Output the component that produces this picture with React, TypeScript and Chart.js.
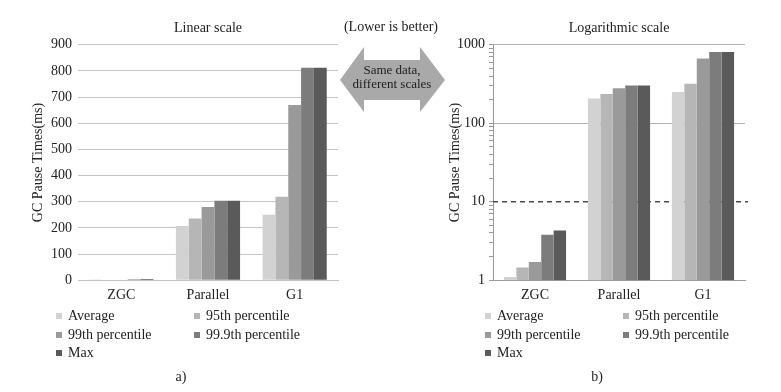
import React, { useEffect, useRef } from 'react';
import { Chart, registerables } from 'chart.js';

Chart.register(...registerables);

// ---------- data ----------
const categories = ['ZGC', 'Parallel', 'G1'];
const seriesLabels = ['Average', '95th percentile', '99th percentile', '99.9th percentile', 'Max'];
const averageMs = [1.1, 207, 250];
const p95Ms = [1.45, 236, 319];
const p99Ms = [1.7, 280, 670];
const p999Ms = [3.8, 304, 812];
const maxMs = [4.3, 304, 812];
const seriesValues = [averageMs, p95Ms, p99Ms, p999Ms, maxMs];
const linearMax = 900;
const linearStep = 100;
const logTickLabels = [1, 10, 100, 1000];
const referenceValue = 10;

// ---------- styles ----------
const seriesColors = ['#d2d2d2', '#b6b6b6', '#9a9a9a', '#7c7c7c', '#5a5a5a'];
const FONT = '"Liberation Serif", "Times New Roman", serif';
const TXT = '#222';

function makeDatasets() {
  return seriesValues.map((data, i) => ({
    label: seriesLabels[i],
    data,
    backgroundColor: seriesColors[i],
    borderWidth: 0,
    barPercentage: 1,
    categoryPercentage: 0.74,
  }));
}

const refLinePlugin = {
  id: 'refLine',
  beforeDatasetsDraw(chart: any) {
    const y = chart.scales.y.getPixelForValue(referenceValue);
    const { left, right } = chart.chartArea;
    const ctx = chart.ctx;
    ctx.save();
    ctx.strokeStyle = '#4a4a4a';
    ctx.lineWidth = 1.3;
    ctx.setLineDash([5, 4]);
    ctx.beginPath();
    ctx.moveTo(left, y);
    ctx.lineTo(right + 3, y);
    ctx.stroke();
    ctx.restore();
  },
};

function Legend({ left, colGap }: { left: number; colGap: number }) {
  const rows = [316, 334.5, 353];
  return (
    <>
      {seriesLabels.map((lab, i) => {
        const col = i % 2;
        const row = Math.floor(i / 2);
        return (
          <div
            key={lab}
            style={{
              position: 'absolute',
              left: left + col * colGap,
              top: rows[row] - 9,
              height: 18,
              display: 'flex',
              alignItems: 'center',
              fontFamily: FONT,
              fontSize: 14,
              color: TXT,
              whiteSpace: 'nowrap',
            }}
          >
            <span style={{ width: 6, height: 6, background: seriesColors[i], marginRight: 6, display: 'inline-block' }} />
            <span>{lab}</span>
          </div>
        );
      })}
    </>
  );
}

export default function App() {
  const leftRef = useRef<HTMLCanvasElement>(null);
  const rightRef = useRef<HTMLCanvasElement>(null);

  useEffect(() => {
    const common = {
      responsive: false,
      animation: false as const,
      layout: { padding: { left: 0, right: 7, top: 0, bottom: 0 } },
      plugins: {
        legend: { display: false },
        tooltip: { enabled: false },
      },
    };

    const titleOpts = (text: string) => ({
      display: true,
      text,
      fullSize: false,
      font: { family: FONT, size: 14, weight: 'normal' },
      color: TXT,
      padding: { top: 20, bottom: 8 },
    });

    const left = new Chart(leftRef.current!, {
      type: 'bar',
      data: { labels: categories, datasets: makeDatasets() as any },
      options: {
        ...common,
        plugins: {
          ...common.plugins,
          title: titleOpts('Linear scale'),
        },
        scales: {
          x: {
            grid: { display: false, drawTicks: false },
            border: { display: true, color: '#c4c4c4' },
            ticks: { font: { family: FONT, size: 14 }, color: TXT, padding: 7 },
          },
          y: {
            min: 0,
            max: linearMax,
            ticks: { stepSize: linearStep, font: { family: FONT, size: 14 }, color: TXT, padding: 6 },
            grid: { color: '#c4c4c4', drawTicks: false },
            border: { display: false },
            title: {
              display: true,
              text: 'GC Pause Times(ms)',
              font: { family: FONT, size: 14 },
              color: TXT,
              padding: { top: 30, bottom: 0 },
            },
            afterFit: (s: any) => {
              s.width = 78;
            },
          },
        },
      } as any,
    });

    const right = new Chart(rightRef.current!, {
      type: 'bar',
      data: { labels: categories, datasets: makeDatasets() as any },
      plugins: [refLinePlugin],
      options: {
        ...common,
        layout: { padding: { left: 0, right: 10, top: 0, bottom: 0 } },
        plugins: {
          ...common.plugins,
          title: titleOpts('Logarithmic scale'),
        },
        scales: {
          x: {
            grid: { display: false, drawTicks: false },
            border: { display: true, color: '#9a9a9a' },
            ticks: { font: { family: FONT, size: 14 }, color: TXT, padding: 7 },
          },
          y: {
            type: 'logarithmic',
            min: 1,
            max: 1000,
            afterBuildTicks: (scale: any) => {
              scale.ticks = scale.ticks.filter((t: any) => {
                const m = t.value / Math.pow(10, Math.floor(Math.log10(t.value) + 1e-9));
                return Math.abs(m - Math.round(m)) < 1e-6;
              });
            },
            ticks: {
              autoSkip: false,
              font: { family: FONT, size: 14 },
              color: TXT,
              padding: 4,
              callback: (v: any) => (logTickLabels.includes(Number(v)) ? String(v) : ''),
            },
            grid: {
              color: (ctx: any) =>
                ctx.tick && ctx.tick.major && ctx.tick.value !== referenceValue && ctx.tick.value !== 1
                  ? '#b0b0b0'
                  : 'rgba(0,0,0,0)',
              tickColor: '#9a9a9a',
              tickLength: 4,
              drawTicks: true,
            },
            border: { display: true, color: '#9a9a9a' },
            title: {
              display: true,
              text: 'GC Pause Times(ms)',
              font: { family: FONT, size: 14 },
              color: TXT,
              padding: { top: 32, bottom: 0 },
            },
            afterFit: (s: any) => {
              s.width = 78;
            },
          },
        },
      } as any,
    });

    return () => {
      left.destroy();
      right.destroy();
    };
  }, []);

  return (
    <div style={{ position: 'absolute', left: 0, top: 0, width: 781, height: 392, background: '#fff', overflow: 'hidden' }}>
      <canvas ref={leftRef} width={345} height={311} style={{ position: 'absolute', left: 0, top: 0, display: 'block' }} />
      <canvas ref={rightRef} width={340} height={311} style={{ position: 'absolute', left: 415, top: 0, display: 'block' }} />

      <div
        style={{
          position: 'absolute',
          left: 331,
          width: 120,
          top: 18,
          textAlign: 'center',
          fontFamily: FONT,
          fontSize: 14,
          color: TXT,
          lineHeight: '18px',
        }}
      >
        (Lower is better)
      </div>

      <svg width={781} height={392} style={{ position: 'absolute', left: 0, top: 0, pointerEvents: 'none' }}>
        <polygon
          points="340,80 364,47 364,60 420,60 420,47 445,80 420,112 420,100 364,100 364,112"
          fill="#a9a9a9"
        />
        <text x={392} y={71} textAnchor="middle" dominantBaseline="middle" fontFamily={FONT} fontSize={13} fill="#1e1e1e">
          Same data,
        </text>
        <text x={392} y={85} textAnchor="middle" dominantBaseline="middle" fontFamily={FONT} fontSize={13} fill="#1e1e1e">
          different scales
        </text>
      </svg>

      <Legend left={56} colGap={138} />
      <Legend left={485} colGap={138} />

      <div style={{ position: 'absolute', left: 161, width: 40, top: 368, textAlign: 'center', fontFamily: FONT, fontSize: 14, color: TXT, lineHeight: '18px' }}>
        a)
      </div>
      <div style={{ position: 'absolute', left: 577, width: 40, top: 368, textAlign: 'center', fontFamily: FONT, fontSize: 14, color: TXT, lineHeight: '18px' }}>
        b)
      </div>
    </div>
  );
}
